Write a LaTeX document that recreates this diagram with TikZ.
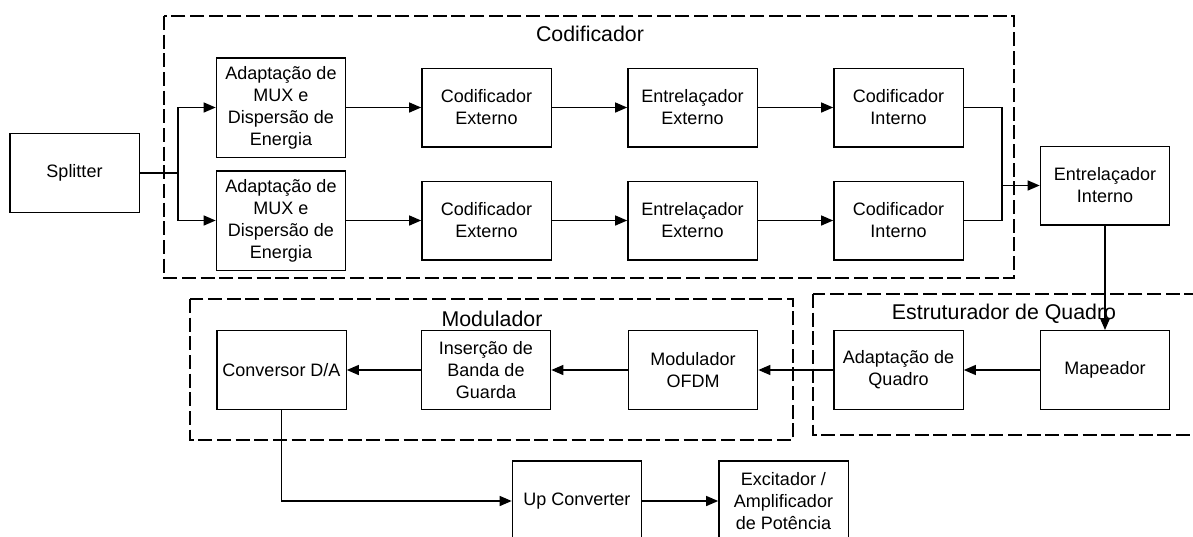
\documentclass[tikz,border=0pt]{standalone}
\usepackage{fontspec}
\setmainfont{Liberation Sans}
\usetikzlibrary{arrows.meta}
\begin{document}
\begin{tikzpicture}[x=0.75pt,y=-0.75pt,
  block/.style={draw, line width=1pt, align=center, inner sep=0pt,
    font=\fontsize{13.5}{16.5}\selectfont,
    minimum width=97pt, minimum height=59pt},
  tallblock/.style={block, minimum height=74.5pt},
  group/.style={draw, line width=1pt, dash pattern=on 10.5pt off 3.5pt},
  grouptitle/.style={font=\fontsize{16}{19}\selectfont, inner sep=0pt},
  flow/.style={line width=1pt, -{Triangle[length=9pt,width=7.5pt]}},
  link/.style={line width=1pt}]
\clip (0,0) rectangle (1193,536);

% dashed frames of the three sub-systems
\draw[group] (164,16) rectangle (1014,278);
\draw[group] (190,299) rectangle (793,440);
\draw[group] (813,294) rectangle (1210,435);

\node[grouptitle] (tcod) at (590,34) {Codificador};
\node[grouptitle] (tmod) at (492,319) {Modulador};
\node[grouptitle] (test) at (1004,313.5) {Estruturador de Quadro};

% blocks
\node[block] (split) at (74.5,173) {Splitter};

\node[tallblock] (adA) at (281,107.5) {Adaptação de\\MUX e\\Dispersão de\\Energia};
\node[tallblock] (adB) at (281,220.5) {Adaptação de\\MUX e\\Dispersão de\\Energia};

\node[block] (ceA) at (486.5,107.5) {Codificador\\Externo};
\node[block] (ceB) at (486.5,220.5) {Codificador\\Externo};

\node[block] (eeA) at (692.5,107.5) {Entrelaçador\\Externo};
\node[block] (eeB) at (692.5,220.5) {Entrelaçador\\Externo};

\node[block] (ciA) at (898.5,107.5) {Codificador\\Interno};
\node[block] (ciB) at (898.5,220.5) {Codificador\\Interno};

\node[block] (ei) at (1105,185.5) {Entrelaçador\\Interno};

\node[block] (map) at (1105,370) {Mapeador};
\node[block] (aq) at (898.5,370) {Adaptação de\\Quadro};
\node[block] (ofdm) at (693,370) {Modulador\\OFDM};
\node[block] (ins) at (486,370) {Inserção de\\Banda de\\Guarda};
\node[block] (conv) at (281.5,370) {Conversor D/A};

\node[block, minimum height=60pt] (up) at (577,501) {Up Converter};
\node[block, minimum height=60pt] (exc) at (783.5,501) {Excitador /\\Amplificador\\de Potência};

% connectors
\coordinate (fork) at (178,173);
\draw[link] (split.east) -- (fork);
\draw[flow] (fork) |- (adA.west);
\draw[flow] (fork) |- (adB.west);

\draw[flow] (adA.east) -- (ceA.west);
\draw[flow] (ceA.east) -- (eeA.west);
\draw[flow] (eeA.east) -- (ciA.west);
\draw[flow] (adB.east) -- (ceB.west);
\draw[flow] (ceB.east) -- (eeB.west);
\draw[flow] (eeB.east) -- (ciB.west);

\coordinate (join) at (1002,185.5);
\draw[link] (ciA.east) -| (join);
\draw[link] (ciB.east) -| (join);
\draw[flow] (join) -- (ei.west);

\draw[flow] (ei.south) -- (map.north);
\draw[flow] (map.west) -- (aq.east);
\draw[flow] (aq.west) -- (ofdm.east);
\draw[flow] (ofdm.west) -- (ins.east);
\draw[flow] (ins.west) -- (conv.east);
\draw[flow] (conv.south) |- (up.west);
\draw[flow] (up.east) -- (exc.west);
\end{tikzpicture}
\end{document}
